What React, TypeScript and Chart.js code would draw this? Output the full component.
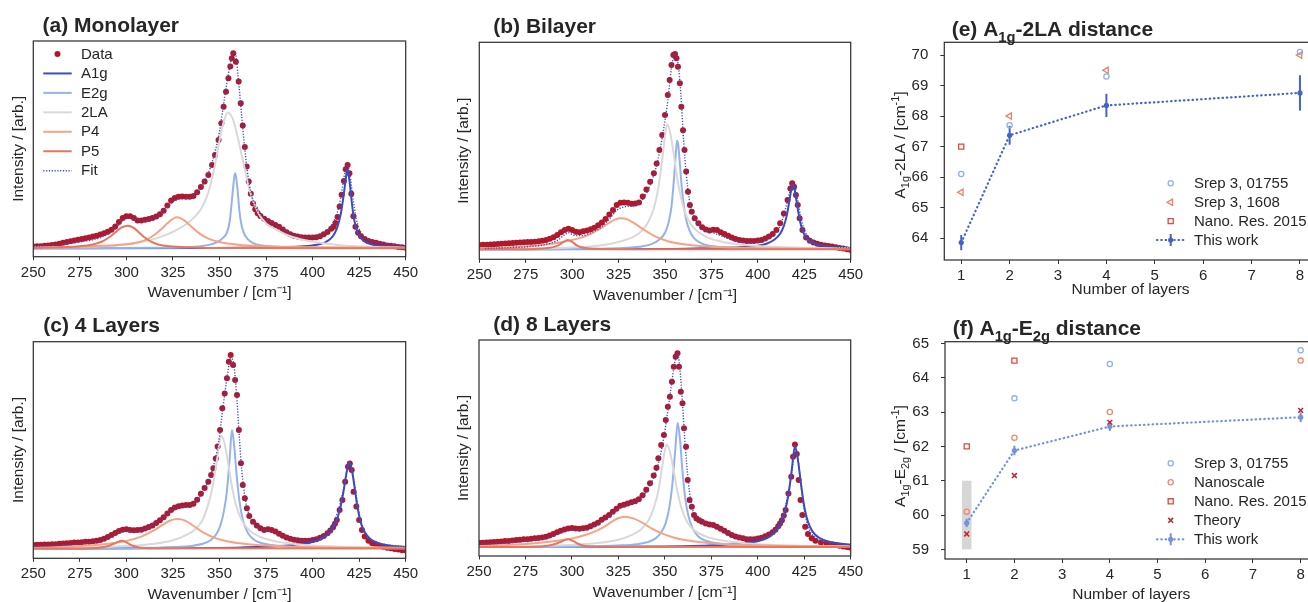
import React, { useEffect, useRef } from 'react';
import { Chart, registerables } from 'chart.js';

Chart.register(...registerables);

const FONT = '"Liberation Sans", Arial, Helvetica, sans-serif';
const INK = '#262626';
const SPINE = '#333333';

const COL_DATA = '#b2182b';
const COL_A1G = '#3b4cc0';
const COL_E2G = '#93b3ef';
const COL_2LA = '#d9d9d9';
const COL_P4 = '#f5a384';
const COL_P5 = '#e8765c';
const COL_FIT = '#3b4cc0';

const COL_SREP = '#8eb0f0';
const COL_SREP1608 = '#ef7d61';
const COL_NANOSCALE = '#f08a6c';
const COL_NANORES = '#df4a3a';
const COL_THEORY = '#c2262e';
const COL_THIS_E = '#4363c5';
const COL_THIS_F = '#7291e0';
const COL_BAND = '#d6d6d6';

type Pt = [number, number];

// ---------- tick labels ----------
const WAVENUMBER_TICKS = [250, 275, 300, 325, 350, 375, 400, 425, 450];
const LAYER_TICKS = [1, 2, 3, 4, 5, 6, 7, 8];
const E_Y_TICKS = [64, 65, 66, 67, 68, 69, 70];
const F_Y_TICKS = [59, 60, 61, 62, 63, 64, 65];

const SPECTRA_LABELS = ['Data', 'A1g', 'E2g', '2LA', 'P4', 'P5', 'Fit'];
const E_LABELS = ['Srep 3, 01755', 'Srep 3, 1608', 'Nano. Res. 2015', 'This work'];
const F_LABELS = ['Srep 3, 01755', 'Nanoscale', 'Nano. Res. 2015', 'Theory', 'This work'];

// ---------- (a) Monolayer ----------
const A_DATA: Pt[] = [[250,.009],[252,.010],[254,.011],[256,.013],[258,.015],[260,.017],[262,.020],[264,.024],[266,.028],[268,.032],[270,.036],[272,.040],[274,.044],[276,.048],[278,.052],[280,.056],[282,.060],[284,.065],[286,.071],[288,.077],[290,.085],[292,.095],[294,.112],[296,.135],[298,.155],[300,.165],[302,.165],[304,.155],[306,.143],[308,.142],[310,.147],[312,.150],[314,.155],[316,.163],[318,.175],[320,.193],[322,.220],[324,.245],[326,.258],[328,.265],[330,.266],[332,.264],[334,.264],[336,.268],[338,.288],[340,.315],[342,.343],[344,.376],[346,.427],[347.6,.479],[349.5,.556],[351,.641],[352.2,.726],[353.5,.803],[354.8,.872],[355.8,.932],[356.6,.974],[357.4,1.0],[358.8,.957],[360.3,.855],[361.4,.744],[362.5,.63],[363.6,.52],[364.6,.42],[365.7,.342],[366.8,.28],[368,.23],[369.2,.2],[370.5,.18],[372,.166],[374,.152],[376,.140],[378,.130],[380,.120],[382,.110],[384,.096],[386,.083],[388,.072],[390,.065],[392,.060],[394,.057],[396,.056],[398,.056],[400,.056],[402,.057],[404,.062],[406,.072],[408,.084],[410,.100],[411.2,.11],[412.3,.13],[413.4,.16],[414.5,.215],[415.6,.275],[416.8,.345],[417.8,.405],[418.8,.427],[419.8,.385],[420.8,.28],[421.9,.165],[423,.111],[424.4,.08],[426,.062],[428,.048],[430,.038],[432,.033],[434,.028],[436,.024],[438,.019],[440,.015],[442,.013],[444,.010],[446,.007],[448,.005],[450,.003]];
const A_A1G: Pt[] = [[250,0],[350,.002],[370,.004],[385,.006],[395,.01],[400,.015],[404,.022],[407,.032],[410,.052],[412,.08],[413.5,.115],[415,.17],[416.2,.24],[417.2,.31],[418,.37],[418.5,.4],[419.2,.385],[420,.33],[421,.24],[422,.165],[423.3,.105],[425,.065],[427.5,.038],[431,.022],[437,.012],[444,.007],[450,.005]];
const A_E2G: Pt[] = [[250,0],[320,.003],[332,.006],[340,.011],[345,.019],[349,.033],[352,.055],[354,.08],[355.5,.14],[356.5,.23],[357.3,.31],[358,.37],[358.4,.385],[359,.36],[359.8,.29],[360.6,.2],[361.6,.13],[363,.08],[365,.048],[368,.027],[373,.014],[380,.008],[395,.004],[450,.001]];
const A_2LA: Pt[] = [[250,.004],[270,.007],[286,.01],[300,.02],[312.7,.042],[321.6,.07],[328,.1],[333,.13],[337,.165],[340,.2],[343,.26],[345,.32],[347,.4],[349,.5],[351,.6],[352.8,.665],[354.4,.696],[356,.685],[357.5,.655],[360,.56],[362.8,.44],[366.4,.29],[370.9,.18],[375.3,.125],[380.7,.095],[388,.062],[396.8,.04],[411,.02],[429,.008],[450,.004]];
const A_P4: Pt[] = [[250,.003],[275,.008],[290,.014],[300,.021],[306,.03],[311,.046],[315,.068],[319,.1],[322,.128],[324.5,.148],[326.8,.159],[329,.155],[332,.137],[335,.11],[339,.078],[344,.05],[350,.032],[360,.018],[375,.01],[400,.005],[450,.002]];
const A_P5: Pt[] = [[250,.002],[265,.005],[275,.01],[282,.02],[287,.035],[291,.058],[294.5,.085],[297.5,.107],[300.7,.116],[303.5,.107],[306.5,.084],[309.5,.058],[313,.035],[317,.02],[323,.01],[335,.004],[360,.001],[450,0]];
const A_FIT: Pt[] = [[250,.01],[260,.015],[270,.027],[280,.04],[288,.062],[294,.1],[298,.142],[301,.155],[304,.15],[308,.14],[312,.148],[316,.163],[320,.19],[324,.23],[327,.25],[330,.255],[334,.26],[338,.285],[342,.345],[346,.44],[350,.6],[353,.79],[355.5,.93],[357.3,1.0],[358.5,1.0],[360,.88],[362,.67],[364,.47],[366,.33],[368,.245],[371,.185],[375,.15],[380,.12],[385,.093],[390,.07],[395,.06],[400,.058],[405,.068],[409,.1],[412,.15],[414.5,.23],[416.5,.34],[418.3,.43],[420,.38],[421.5,.27],[423.5,.15],[426,.08],[430,.045],[440,.022],[450,.012]];

// ---------- (b) Bilayer ----------
const B_DATA: Pt[] = [[250,.022],[252,.023],[254,.024],[256,.025],[258,.026],[260,.027],[262,.028],[264,.030],[266,.031],[268,.033],[270,.034],[272,.035],[274,.036],[276,.037],[278,.038],[280,.039],[282,.041],[284,.044],[286,.048],[288,.054],[290,.062],[292,.073],[294,.087],[296,.099],[298,.106],[300,.099],[302,.090],[304,.088],[306,.092],[308,.097],[310,.103],[312,.111],[314,.123],[316,.138],[318,.155],[320,.178],[322,.202],[324,.227],[326,.238],[328,.240],[330,.239],[332,.234],[334,.235],[336,.240],[338,.270],[340,.307],[342,.346],[344,.389],[345.5,.44],[347,.508],[348.5,.585],[350,.688],[351.5,.79],[352.5,.867],[353.5,.944],[354.5,.995],[355.4,1.0],[356.2,.978],[357,.935],[358,.85],[358.8,.73],[359.7,.61],[360.5,.508],[361.4,.398],[362.4,.295],[363.4,.227],[364.4,.193],[366,.159],[368,.133],[370,.113],[372,.102],[374,.096],[376,.100],[378,.099],[380,.087],[382,.078],[384,.069],[386,.060],[388,.053],[390,.048],[392,.045],[394,.043],[396,.043],[398,.043],[400,.045],[402,.048],[404,.055],[406,.066],[408,.078],[410,.099],[412,.133],[414,.184],[416,.253],[417.5,.312],[418.5,.338],[419.5,.321],[420.5,.278],[421.5,.227],[422.5,.159],[424,.099],[426,.061],[428,.044],[430,.035],[432,.029],[434,.024],[436,.020],[438,.017],[440,.014],[442,.011],[444,.007],[446,.004],[448,.000],[450,-.003]];
const B_A1G: Pt[] = [[250,0],[350,.002],[370,.005],[385,.008],[395,.013],[400,.018],[405,.03],[409,.05],[412,.08],[414,.12],[415.5,.17],[417,.25],[418,.305],[418.8,.33],[419.6,.315],[420.6,.26],[421.8,.19],[423.2,.125],[425,.075],[427.5,.045],[431,.027],[437,.015],[444,.009],[450,.006]];
const B_E2G: Pt[] = [[250,0],[320,.004],[330,.008],[338,.016],[343,.028],[347,.05],[350,.085],[352,.14],[353.5,.22],[355,.38],[355.9,.5],[356.5,.556],[357.2,.53],[358,.44],[359,.32],[360.5,.2],[362,.13],[364,.08],[367,.045],[372,.022],[380,.012],[400,.004],[450,.001]];
const B_2LA: Pt[] = [[250,.002],[280,.005],[300,.01],[315,.02],[325,.038],[332,.06],[337,.09],[341,.14],[344,.21],[346.5,.32],[348.5,.46],[350,.58],[351.1,.64],[352.5,.61],[354.5,.5],[356.5,.37],[359,.25],[362,.16],[366,.105],[372,.065],[380,.04],[390,.025],[400,.017],[420,.009],[450,.005]];
const B_P4: Pt[] = [[250,.006],[265,.01],[280,.018],[290,.03],[300,.048],[308,.07],[314,.1],[319,.13],[323,.152],[326.3,.159],[330,.152],[334,.13],[339,.098],[345,.065],[352,.04],[360,.026],[370,.016],[385,.009],[400,.006],[450,.002]];
const B_P5: Pt[] = [[250,0],[280,.002],[288,.008],[292,.018],[295,.035],[297.6,.048],[300,.038],[302.5,.02],[306,.008],[312,.003],[330,.001],[450,0]];
const B_FIT: Pt[] = [[253,.005],[265,.008],[275,.013],[285,.024],[292,.045],[296,.075],[298,.085],[301,.072],[305,.07],[310,.085],[315,.11],[320,.155],[324,.2],[327,.215],[330,.22],[334,.225],[338,.255],[342,.33],[346,.45],[349,.6],[351.5,.76],[353.5,.93],[355.4,1.0],[357,.95],[358.5,.8],[360,.56],[361.5,.38],[363,.26],[365,.18],[368,.13],[372,.1],[376,.085],[380,.07],[385,.052],[390,.04],[395,.034],[400,.035],[404,.045],[408,.07],[411,.1],[413.5,.16],[416,.25],[418,.32],[418.8,.345],[420,.32],[421.5,.25],[423,.17],[425,.1],[428,.055],[432,.03],[440,.015],[450,.007]];

// ---------- (c) 4 Layers ----------
const C_DATA: Pt[] = [[250,.019],[252,.020],[254,.020],[256,.021],[258,.021],[260,.022],[262,.023],[264,.025],[266,.026],[268,.028],[270,.029],[272,.031],[274,.032],[276,.033],[278,.035],[280,.036],[282,.038],[284,.041],[286,.045],[288,.051],[290,.060],[292,.071],[294,.081],[296,.091],[298,.098],[300,.100],[302,.096],[304,.095],[306,.096],[308,.098],[310,.104],[312,.112],[314,.120],[316,.133],[318,.146],[320,.162],[322,.181],[324,.200],[326,.213],[328,.219],[330,.223],[332,.225],[334,.226],[336,.232],[338,.252],[340,.283],[342,.313],[344,.345],[345.5,.38],[346.7,.415],[348,.466],[349,.527],[350.3,.613],[351.5,.725],[352.8,.802],[354,.88],[355,.966],[356,1.0],[357.3,.948],[358.4,.871],[359.4,.793],[360.4,.613],[361.5,.441],[362.5,.329],[363.6,.26],[364.7,.208],[366,.169],[368,.139],[370,.119],[372,.105],[374,.096],[376,.100],[378,.096],[380,.088],[382,.077],[384,.066],[386,.057],[388,.051],[390,.046],[392,.043],[394,.041],[396,.041],[398,.041],[400,.044],[402,.048],[404,.056],[406,.065],[408,.080],[409.5,.094],[411,.110],[412,.128],[413,.148],[414.5,.200],[416,.251],[417.5,.346],[419,.423],[420,.44],[421,.406],[422,.294],[423.5,.217],[425,.148],[426.5,.096],[428,.062],[430,.041],[432,.028],[434,.020],[436,.014],[438,.010],[440,.005],[442,.002],[444,-.002],[446,-.005],[448,-.008],[450,-.01]];
const C_A1G: Pt[] = [[250,0],[350,.003],[370,.008],[385,.015],[393,.022],[400,.034],[405,.052],[409,.08],[412,.125],[414.5,.195],[416.5,.29],[418,.38],[419.6,.446],[421,.41],[422.5,.32],[424,.22],[426,.13],[428,.085],[431,.05],[435,.03],[440,.018],[450,.008]];
const C_E2G: Pt[] = [[250,0],[310,.003],[325,.008],[335,.014],[341,.025],[345,.042],[348,.07],[350.5,.12],[352.5,.2],[354,.3],[355.5,.47],[356.7,.613],[358,.52],[359.3,.37],[360.8,.24],[362.5,.15],[365,.085],[368,.05],[372,.03],[380,.016],[400,.006],[450,.002]];
const C_2LA: Pt[] = [[250,.002],[280,.006],[300,.013],[315,.025],[325,.043],[332,.07],[337,.1],[341,.15],[344,.23],[346.5,.33],[348.5,.45],[350,.55],[351,.583],[352.5,.55],[354.5,.45],[356.5,.33],[359,.22],[362,.145],[366,.095],[372,.06],[380,.038],[390,.024],[400,.016],[420,.008],[450,.004]];
const C_P4: Pt[] = [[250,.005],[265,.009],[280,.016],[290,.025],[300,.04],[308,.062],[314,.09],[319,.12],[323.5,.145],[327.5,.153],[331.5,.145],[336,.118],[341,.085],[347,.057],[354,.038],[362,.026],[372,.017],[385,.011],[400,.007],[450,.003]];
const C_P5: Pt[] = [[250,0],[280,.002],[287,.007],[291,.016],[294.5,.03],[297.4,.041],[300,.032],[303,.016],[307,.006],[315,.002],[450,0]];
const C_FIT: Pt[] = [[250,.012],[265,.018],[280,.03],[288,.045],[293,.068],[297,.088],[300,.09],[304,.088],[308,.095],[313,.115],[318,.145],[322,.18],[326,.208],[330,.218],[334,.222],[338,.25],[342,.31],[346,.4],[349.5,.55],[352,.74],[354.3,.9],[356,.985],[357.5,.96],[359,.82],[360.5,.6],[362,.4],[364,.25],[366.5,.16],[370,.115],[375,.095],[380,.085],[385,.065],[390,.048],[395,.042],[400,.048],[405,.065],[409,.1],[412,.15],[415,.24],[417.5,.35],[419.6,.45],[421.5,.39],[423.5,.27],[425.5,.16],[428,.09],[431,.05],[436,.028],[443,.016],[450,.01]];

// ---------- (d) 8 Layers ----------
const D_DATA: Pt[] = [[250,.022],[252,.023],[254,.024],[256,.025],[258,.026],[260,.028],[262,.029],[264,.031],[266,.032],[268,.034],[270,.036],[272,.038],[274,.040],[276,.041],[278,.043],[280,.045],[282,.047],[284,.050],[286,.054],[288,.060],[290,.067],[292,.076],[294,.084],[296,.091],[298,.096],[300,.098],[302,.096],[304,.095],[306,.097],[308,.100],[310,.107],[312,.116],[314,.126],[316,.141],[318,.153],[320,.165],[322,.182],[324,.198],[326,.213],[328,.219],[330,.225],[332,.231],[334,.237],[336,.247],[338,.268],[340,.296],[342,.329],[344,.370],[345.5,.41],[346.5,.458],[348,.527],[349.5,.578],[350.5,.656],[351.6,.725],[352.7,.776],[353.8,.854],[354.8,.931],[355.8,.983],[356.8,1.0],[357.6,.931],[358.6,.802],[359.5,.742],[360.3,.613],[361.4,.518],[362.3,.346],[363.3,.243],[364.5,.208],[365.7,.165],[367,.148],[368.5,.139],[370,.131],[372,.122],[374,.117],[376,.114],[378,.105],[380,.095],[382,.084],[384,.073],[386,.062],[388,.055],[390,.050],[392,.045],[394,.041],[396,.040],[398,.041],[400,.044],[402,.048],[404,.056],[406,.065],[408,.077],[409.5,.09],[411,.108],[412,.122],[413,.139],[414,.163],[415,.191],[416.5,.277],[418,.363],[419,.466],[420,.53],[421,.48],[422,.346],[423,.243],[424,.165],[425.5,.105],[427,.067],[429,.045],[431,.033],[434,.024],[437,.019],[440,.014],[442,.011],[444,.007],[446,.003],[448,.000],[450,-.003]];
const D_A1G: Pt[] = [[250,0],[350,.003],[370,.007],[385,.013],[393,.02],[400,.03],[405,.046],[409,.075],[412,.115],[414.5,.18],[416.5,.27],[418.3,.4],[420,.521],[421.6,.45],[423.2,.33],[425,.21],[427,.13],[429.5,.08],[433,.048],[437,.032],[443,.02],[450,.013]];
const D_E2G: Pt[] = [[250,0],[310,.003],[325,.008],[335,.015],[341,.026],[345,.045],[348,.075],[350.5,.125],[352.5,.21],[354,.32],[355.6,.5],[356.9,.642],[358.2,.55],[359.5,.39],[361,.25],[362.7,.16],[365,.095],[368,.055],[372,.033],[380,.017],[400,.006],[450,.002]];
const D_2LA: Pt[] = [[250,.002],[280,.005],[300,.012],[315,.022],[325,.038],[332,.062],[337,.09],[341,.135],[344,.2],[346.5,.29],[348.5,.41],[350,.5],[351,.53],[352.5,.5],[354.5,.41],[356.5,.3],[359,.2],[362,.13],[366,.085],[372,.055],[380,.035],[390,.022],[400,.015],[420,.007],[450,.004]];
const D_P4: Pt[] = [[250,.006],[265,.011],[280,.02],[290,.03],[300,.045],[308,.065],[314,.088],[319,.115],[323.5,.143],[328.2,.157],[333,.148],[338,.125],[343,.095],[349,.068],[356,.046],[364,.032],[375,.02],[390,.012],[410,.007],[450,.003]];
const D_P5: Pt[] = [[250,0],[280,.002],[287,.007],[291,.016],[294.7,.03],[297.7,.041],[300.5,.032],[303.5,.016],[307,.006],[315,.002],[450,0]];
const D_FIT: Pt[] = [[250,.015],[265,.022],[280,.036],[288,.05],[293,.07],[297,.085],[300,.088],[304,.088],[309,.097],[314,.12],[319,.15],[324,.19],[328,.215],[332,.228],[336,.24],[340,.285],[344,.36],[347.5,.47],[350.5,.63],[353,.8],[355.3,.95],[356.8,1.0],[358,.93],[359.5,.74],[361,.52],[362.7,.33],[364.5,.21],[367,.15],[371,.125],[376,.11],[381,.09],[386,.065],[391,.048],[396,.042],[401,.046],[406,.065],[410,.1],[413,.15],[416,.26],[418.5,.4],[420,.52],[421.6,.46],[423.2,.32],[425,.19],[427.5,.095],[431,.048],[436,.028],[443,.018],[450,.012]];

// ---------- (e) A1g-2LA distance ----------
const E_LAYERS = [1, 2, 4, 8];
const E_SREP_01755 = [66.1, 67.7, 69.3, 70.1];
const E_SREP_1608 = [65.5, 68.0, 69.5, 70.0];
const E_NANORES_LAYERS = [1];
const E_NANORES = [67.0];
const E_THIS = [63.85, 67.37, 68.35, 68.76];
const E_THIS_ERR = [0.25, 0.31, 0.38, 0.58];

// ---------- (f) A1g-E2g distance ----------
const F_LAYERS = [1, 2, 4, 8];
const F_SREP_LAYERS = [2, 4, 8];
const F_SREP_01755 = [63.4, 64.4, 64.8];
const F_NANOSCALE = [60.1, 62.25, 63.0, 64.5];
const F_NANORES_LAYERS = [1, 2];
const F_NANORES = [62.0, 64.5];
const F_THEORY = [59.45, 61.15, 62.7, 63.05];
const F_THIS = [59.77, 61.88, 62.58, 62.85];
const F_THIS_ERR = [0.12, 0.14, 0.13, 0.14];
const F_BAND_X = [0.9, 1.1];
const F_BAND_Y = [59, 61];

// ---------- helpers ----------
const xy = (a: Pt[]) => a.map(([x, y]) => ({ x, y }));
const zip = (xs: number[], ys: number[]) => xs.map((x, i) => ({ x, y: ys[i] }));

type Seg = { t: string; s?: 'sub' | 'sup' };

function drawRich(ctx: CanvasRenderingContext2D, segs: Seg[], x: number, y: number, size: number, weight: string, align: 'left' | 'center', rotate: boolean) {
  ctx.save();
  ctx.translate(x, y);
  if (rotate) ctx.rotate(-Math.PI / 2);
  ctx.fillStyle = INK;
  ctx.textBaseline = 'alphabetic';
  ctx.textAlign = 'left';
  const parts = segs.map((sg) => {
    const sz = sg.s ? size * 0.7 : size;
    ctx.font = `${weight} ${sz}px ${FONT}`;
    return { ...sg, sz, w: ctx.measureText(sg.t).width };
  });
  const total = parts.reduce((a, p) => a + p.w, 0);
  let cx = align === 'center' ? -total / 2 : 0;
  for (const p of parts) {
    ctx.font = `${weight} ${p.sz}px ${FONT}`;
    const dy = p.s === 'sub' ? size * 0.3 : p.s === 'sup' ? -size * 0.38 : 0;
    ctx.fillText(p.t, cx, dy);
    cx += p.w;
  }
  ctx.restore();
}

function drawMarker(ctx: CanvasRenderingContext2D, kind: string, x: number, y: number, r: number, color: string, lw: number, filled: boolean) {
  ctx.save();
  ctx.strokeStyle = color;
  ctx.fillStyle = color;
  ctx.lineWidth = lw;
  ctx.beginPath();
  if (kind === 'circle') {
    ctx.arc(x, y, r, 0, Math.PI * 2);
  } else if (kind === 'triangleLeft') {
    ctx.moveTo(x - r, y);
    ctx.lineTo(x + r * 0.5, y - r * 0.866);
    ctx.lineTo(x + r * 0.5, y + r * 0.866);
    ctx.closePath();
  } else if (kind === 'rect') {
    const s = r * Math.SQRT1_2;
    ctx.rect(x - s, y - s, 2 * s, 2 * s);
  } else if (kind === 'cross') {
    const s = r * Math.SQRT1_2;
    ctx.moveTo(x - s, y - s); ctx.lineTo(x + s, y + s);
    ctx.moveTo(x - s, y + s); ctx.lineTo(x + s, y - s);
  }
  if (filled) ctx.fill(); else ctx.stroke();
  ctx.restore();
}

interface Rect { left: number; top: number; width: number; height: number }
interface Area { l: number; t: number; r: number; b: number }

function layoutFor(canvas: Rect, area: Area, xTitleY: number) {
  const xh = xTitleY + 9.3 - area.b;
  return {
    padding: {
      left: 0,
      top: area.t - canvas.top,
      right: canvas.left + canvas.width - area.r,
      bottom: canvas.top + canvas.height - (area.b + xh),
    },
    yw: area.l - canvas.left,
    xh,
  };
}

function overlayPlugin(canvas: Rect, before: ((ctx: CanvasRenderingContext2D, chart: any) => void) | null, after: (ctx: CanvasRenderingContext2D, chart: any) => void) {
  return {
    id: 'overlay',
    beforeDatasetsDraw(chart: any) {
      if (!before) return;
      const ctx = chart.ctx;
      ctx.save();
      before(ctx, chart);
      ctx.restore();
    },
    afterDraw(chart: any) {
      const ctx = chart.ctx as CanvasRenderingContext2D;
      const { left, top, right, bottom } = chart.chartArea;
      ctx.save();
      ctx.strokeStyle = SPINE;
      ctx.lineWidth = 1.25;
      ctx.strokeRect(left, top, right - left, bottom - top);
      ctx.restore();
      ctx.save();
      ctx.translate(-canvas.left, -canvas.top);
      after(ctx, chart);
      ctx.restore();
    },
  };
}

// ---------- spectra panels ----------
interface SpectrumSpec {
  canvas: Rect; area: Area; yMin: number; yMax: number;
  title: string; titleX: number; titleY: number;
  yTitleX: number; xTitleY: number; legend: boolean;
  data: Pt[]; a1g: Pt[]; e2g: Pt[]; la2: Pt[]; p4: Pt[]; p5: Pt[]; fit: Pt[];
}

const SPECTRA: SpectrumSpec[] = [
  { canvas: { left: 0, top: 0, width: 440, height: 308 }, area: { l: 33.3, t: 41, r: 405.7, b: 256.7 }, yMin: -0.043, yMax: 1.063,
    title: '(a) Monolayer', titleX: 42.5, titleY: 31.5, yTitleX: 18.4, xTitleY: 293, legend: true,
    data: A_DATA, a1g: A_A1G, e2g: A_E2G, la2: A_2LA, p4: A_P4, p5: A_P5, fit: A_FIT },
  { canvas: { left: 445, top: 0, width: 440, height: 308 }, area: { l: 479.3, t: 42.3, r: 850.7, b: 259.3 }, yMin: -0.051, yMax: 1.06,
    title: '(b) Bilayer', titleX: 493.3, titleY: 33, yTitleX: 463.3, xTitleY: 295.5, legend: false,
    data: B_DATA, a1g: B_A1G, e2g: B_E2G, la2: B_2LA, p4: B_P4, p5: B_P5, fit: B_FIT },
  { canvas: { left: 0, top: 300, width: 440, height: 308 }, area: { l: 33.3, t: 341.7, r: 405.7, b: 558.3 }, yMin: -0.05, yMax: 1.069,
    title: '(c) 4 Layers', titleX: 43.3, titleY: 331.7, yTitleX: 18.3, xTitleY: 594.5, legend: false,
    data: C_DATA, a1g: C_A1G, e2g: C_E2G, la2: C_2LA, p4: C_P4, p5: C_P5, fit: C_FIT },
  { canvas: { left: 445, top: 300, width: 440, height: 308 }, area: { l: 479, t: 340, r: 850.7, b: 556 }, yMin: -0.046, yMax: 1.069,
    title: '(d) 8 Layers', titleX: 493.3, titleY: 330.7, yTitleX: 463.3, xTitleY: 592.5, legend: false,
    data: D_DATA, a1g: D_A1G, e2g: D_E2G, la2: D_2LA, p4: D_P4, p5: D_P5, fit: D_FIT },
];

function drawSpectraLegend(ctx: CanvasRenderingContext2D) {
  const styles = [
    { dot: COL_DATA },
    { line: COL_A1G, w: 2 },
    { line: COL_E2G, w: 2 },
    { line: COL_2LA, w: 2 },
    { line: COL_P4, w: 2 },
    { line: COL_P5, w: 2 },
    { line: COL_FIT, w: 1.4, dash: [1.2, 1.6] },
  ] as any[];
  SPECTRA_LABELS.forEach((label, i) => {
    const y = 54 + i * 19.45;
    const st = styles[i];
    ctx.save();
    if (st.dot) {
      ctx.beginPath();
      ctx.arc(57.5, y, 3, 0, Math.PI * 2);
      ctx.fillStyle = st.dot;
      ctx.fill();
    } else {
      ctx.beginPath();
      ctx.setLineDash(st.dash || []);
      ctx.lineWidth = st.w;
      ctx.strokeStyle = st.line;
      ctx.moveTo(43.3, y);
      ctx.lineTo(71.7, y);
      ctx.stroke();
    }
    ctx.restore();
    ctx.font = `15px ${FONT}`;
    ctx.fillStyle = INK;
    ctx.textBaseline = 'middle';
    ctx.textAlign = 'left';
    ctx.fillText(label, 81, y + 0.5);
  });
}

const tickFont = { family: FONT, size: 15 };
const titleFont = { family: FONT, size: 15.5 };

function spectrumConfig(spec: SpectrumSpec): any {
  const L = layoutFor(spec.canvas, spec.area, spec.xTitleY);
  const line = (label: string, pts: Pt[], color: string, order: number, extra: any = {}) => ({
    label, data: xy(pts), borderColor: color, borderWidth: 2, pointRadius: 0, pointHoverRadius: 0,
    fill: false, cubicInterpolationMode: 'monotone', order, ...extra,
  });
  return {
    type: 'line',
    data: {
      datasets: [
        { label: 'Data', data: xy(spec.data), showLine: false, pointRadius: 3, pointHoverRadius: 3,
          pointBackgroundColor: COL_DATA, pointBorderColor: COL_DATA, pointBorderWidth: 0, order: 6 },
        line('A1g', spec.a1g, COL_A1G, 5),
        line('E2g', spec.e2g, COL_E2G, 4),
        line('2LA', spec.la2, COL_2LA, 3),
        line('P4', spec.p4, COL_P4, 2),
        line('P5', spec.p5, COL_P5, 1),
        line('Fit', spec.fit, COL_FIT, 0, { borderWidth: 1.4, borderDash: [1.2, 1.6] }),
      ],
    },
    options: {
      animation: false, responsive: false, devicePixelRatio: 1, events: [],
      layout: { padding: L.padding },
      plugins: { legend: { display: false }, tooltip: { enabled: false }, title: { display: false } },
      scales: {
        x: {
          type: 'linear', min: 250, max: 450,
          afterBuildTicks: (s: any) => { s.ticks = WAVENUMBER_TICKS.map((v) => ({ value: v })); },
          afterFit: (s: any) => { s.height = L.xh; },
          ticks: { font: tickFont, color: INK, padding: 3.2, maxRotation: 0, autoSkip: false, callback: (v: any) => `${v}` },
          grid: { display: true, drawOnChartArea: false, drawTicks: true, tickLength: 3.5, color: SPINE, lineWidth: 1 },
          border: { display: false },
          title: { display: true, text: 'Wavenumber / [cm⁻¹]', font: titleFont, color: INK, padding: { top: 0, bottom: 0 } },
        },
        y: {
          type: 'linear', min: spec.yMin, max: spec.yMax,
          afterFit: (s: any) => { s.width = L.yw; },
          ticks: { display: false },
          grid: { display: false },
          border: { display: false },
          title: { display: true, text: 'Intensity / [arb.]', font: titleFont, color: INK,
            padding: { top: spec.yTitleX - spec.canvas.left - 9.3, bottom: 0 } },
        },
      },
    },
    plugins: [
      overlayPlugin(spec.canvas, null, (ctx) => {
        drawRich(ctx, [{ t: spec.title }], spec.titleX, spec.titleY, 21, 'bold', 'left', false);
        if (spec.legend) drawSpectraLegend(ctx);
      }),
    ],
  };
}

// ---------- scatter panels ----------
const E_CANVAS: Rect = { left: 885, top: 0, width: 445, height: 308 };
const E_AREA: Area = { l: 944.3, t: 42.3, r: 1316.9, b: 260 };
const F_CANVAS: Rect = { left: 885, top: 300, width: 445, height: 308 };
const F_AREA: Area = { l: 945, t: 341.7, r: 1317.6, b: 559 };

function scatterScales(L: any, xMin: number, xMax: number, yMin: number, yMax: number, yTicks: number[]) {
  return {
    x: {
      type: 'linear', min: xMin, max: xMax,
      afterBuildTicks: (s: any) => { s.ticks = LAYER_TICKS.map((v) => ({ value: v })); },
      afterFit: (s: any) => { s.height = L.xh; },
      ticks: { font: tickFont, color: INK, padding: 3.3, maxRotation: 0, autoSkip: false, callback: (v: any) => `${v}` },
      grid: { display: true, drawOnChartArea: false, drawTicks: true, tickLength: 4, color: SPINE, lineWidth: 1 },
      border: { display: false },
      title: { display: true, text: 'Number of layers', font: titleFont, color: INK, padding: { top: 0, bottom: 0 } },
    },
    y: {
      type: 'linear', min: yMin, max: yMax,
      afterBuildTicks: (s: any) => { s.ticks = yTicks.map((v) => ({ value: v })); },
      afterFit: (s: any) => { s.width = L.yw; },
      ticks: { font: tickFont, color: INK, padding: 12, autoSkip: false, callback: (v: any) => `${v}` },
      grid: { display: true, drawOnChartArea: false, drawTicks: true, tickLength: 4, color: SPINE, lineWidth: 1 },
      border: { display: false },
      title: { display: false },
    },
  };
}

function openPoints(label: string, data: any[], color: string, style: string, radius: number, extra: any = {}) {
  return { label, data, showLine: false, pointStyle: style, pointRadius: radius, pointHoverRadius: radius,
    pointBorderColor: color, pointBackgroundColor: 'rgba(0,0,0,0)', pointBorderWidth: 1.3, ...extra };
}

function thisWork(data: any[], color: string) {
  return { label: 'This work', data, showLine: true, borderColor: color, borderWidth: 2.2,
    borderDash: [0.5, 3.8], borderCapStyle: 'round', pointRadius: 2.6, pointHoverRadius: 2.6,
    pointBackgroundColor: color, pointBorderColor: color, pointBorderWidth: 0 };
}

function drawErrorBars(ctx: CanvasRenderingContext2D, chart: any, xs: number[], ys: number[], errs: number[], color: string) {
  const sx = chart.scales.x; const sy = chart.scales.y;
  ctx.strokeStyle = color; ctx.lineWidth = 2;
  xs.forEach((x, i) => {
    const px = sx.getPixelForValue(x);
    ctx.beginPath();
    ctx.moveTo(px, sy.getPixelForValue(ys[i] - errs[i]));
    ctx.lineTo(px, sy.getPixelForValue(ys[i] + errs[i]));
    ctx.stroke();
  });
}

function drawThisWorkLegend(ctx: CanvasRenderingContext2D, y: number, color: string) {
  ctx.save();
  ctx.strokeStyle = color; ctx.lineWidth = 2.2; ctx.lineCap = 'round'; ctx.setLineDash([0.5, 3.8]);
  ctx.beginPath(); ctx.moveTo(1157, y); ctx.lineTo(1185, y); ctx.stroke();
  ctx.setLineDash([]); ctx.lineCap = 'butt'; ctx.lineWidth = 2;
  ctx.beginPath(); ctx.moveTo(1170.7, y - 6); ctx.lineTo(1170.7, y + 6); ctx.stroke();
  ctx.restore();
  drawMarker(ctx, 'circle', 1170.7, y, 2.6, color, 1, true);
}

function legendText(ctx: CanvasRenderingContext2D, text: string, y: number) {
  ctx.font = `15px ${FONT}`; ctx.fillStyle = INK; ctx.textBaseline = 'middle'; ctx.textAlign = 'left';
  ctx.fillText(text, 1194, y + 0.5);
}

function eConfig(): any {
  const L = layoutFor(E_CANVAS, E_AREA, 290);
  return {
    type: 'scatter',
    data: {
      datasets: [
        thisWork(zip(E_LAYERS, E_THIS), COL_THIS_E),
        openPoints('Srep 3, 01755', zip(E_LAYERS, E_SREP_01755), COL_SREP, 'circle', 2.6),
        openPoints('Srep 3, 1608', zip(E_LAYERS, E_SREP_1608), COL_SREP1608, 'triangle', 3.6, { pointRotation: -90 }),
        openPoints('Nano. Res. 2015', zip(E_NANORES_LAYERS, E_NANORES), COL_NANORES, 'rect', 3.6),
      ],
    },
    options: {
      animation: false, responsive: false, devicePixelRatio: 1, events: [],
      layout: { padding: L.padding },
      plugins: { legend: { display: false }, tooltip: { enabled: false } },
      scales: scatterScales(L, 0.65, 8.35, 63.28, 70.42, E_Y_TICKS),
    },
    plugins: [
      overlayPlugin(E_CANVAS,
        (ctx, chart) => drawErrorBars(ctx, chart, E_LAYERS, E_THIS, E_THIS_ERR, COL_THIS_E),
        (ctx) => {
          drawRich(ctx, [{ t: '(e) A' }, { t: '1g', s: 'sub' }, { t: '-2LA distance' }], 951.7, 35.7, 21, 'bold', 'left', false);
          drawRich(ctx, [{ t: 'A' }, { t: '1g', s: 'sub' }, { t: '-2LA / [cm' }, { t: '-1', s: 'sup' }, { t: ']' }], 904.5, 145, 15.5, 'normal', 'center', true);
          const rows = E_LABELS.map((_, i) => 183.3 + i * 18.9);
          drawMarker(ctx, 'circle', 1170.7, rows[0], 2.6, COL_SREP, 1.3, false);
          drawMarker(ctx, 'triangleLeft', 1170.7, rows[1], 3.6, COL_SREP1608, 1.3, false);
          drawMarker(ctx, 'rect', 1170.7, rows[2], 3.6, COL_NANORES, 1.3, false);
          drawThisWorkLegend(ctx, rows[3], COL_THIS_E);
          E_LABELS.forEach((t, i) => legendText(ctx, t, rows[i]));
        }),
    ],
  };
}

function fConfig(): any {
  const L = layoutFor(F_CANVAS, F_AREA, 595);
  return {
    type: 'scatter',
    data: {
      datasets: [
        thisWork(zip(F_LAYERS, F_THIS), COL_THIS_F),
        openPoints('Srep 3, 01755', zip(F_SREP_LAYERS, F_SREP_01755), COL_SREP, 'circle', 2.6),
        openPoints('Nanoscale', zip(F_LAYERS, F_NANOSCALE), COL_NANOSCALE, 'circle', 2.6),
        openPoints('Nano. Res. 2015', zip(F_NANORES_LAYERS, F_NANORES), COL_NANORES, 'rect', 3.6),
        openPoints('Theory', zip(F_LAYERS, F_THEORY), COL_THEORY, 'crossRot', 3.4, { pointBorderWidth: 1.6 }),
      ],
    },
    options: {
      animation: false, responsive: false, devicePixelRatio: 1, events: [],
      layout: { padding: L.padding },
      plugins: { legend: { display: false }, tooltip: { enabled: false } },
      scales: scatterScales(L, 0.545, 8.355, 58.72, 65.05, F_Y_TICKS),
    },
    plugins: [
      overlayPlugin(F_CANVAS,
        (ctx, chart) => {
          const sx = chart.scales.x; const sy = chart.scales.y;
          const x0 = sx.getPixelForValue(F_BAND_X[0]); const x1 = sx.getPixelForValue(F_BAND_X[1]);
          const y0 = sy.getPixelForValue(F_BAND_Y[1]); const y1 = sy.getPixelForValue(F_BAND_Y[0]);
          ctx.fillStyle = COL_BAND;
          ctx.fillRect(x0, y0, x1 - x0, y1 - y0);
          drawErrorBars(ctx, chart, F_LAYERS, F_THIS, F_THIS_ERR, COL_THIS_F);
        },
        (ctx) => {
          drawRich(ctx, [{ t: '(f) A' }, { t: '1g', s: 'sub' }, { t: '-E' }, { t: '2g', s: 'sub' }, { t: ' distance' }], 952.7, 335, 21, 'bold', 'left', false);
          drawRich(ctx, [{ t: 'A' }, { t: '1g', s: 'sub' }, { t: '-E' }, { t: '2g', s: 'sub' }, { t: ' / [cm' }, { t: '-1', s: 'sup' }, { t: ']' }], 904.5, 456, 15.5, 'normal', 'center', true);
          const rows = F_LABELS.map((_, i) => 463.3 + i * 19);
          drawMarker(ctx, 'circle', 1170.7, rows[0], 2.6, COL_SREP, 1.3, false);
          drawMarker(ctx, 'circle', 1170.7, rows[1], 2.6, COL_NANOSCALE, 1.3, false);
          drawMarker(ctx, 'rect', 1170.7, rows[2], 3.6, COL_NANORES, 1.3, false);
          drawMarker(ctx, 'cross', 1170.7, rows[3], 3.4, COL_THEORY, 1.6, false);
          drawThisWorkLegend(ctx, rows[4], COL_THIS_F);
          F_LABELS.forEach((t, i) => legendText(ctx, t, rows[i]));
        }),
    ],
  };
}

const PANEL_CANVASES: Rect[] = [...SPECTRA.map((s) => s.canvas), E_CANVAS, F_CANVAS];

export default function App() {
  const refs = useRef<(HTMLCanvasElement | null)[]>([]);
  useEffect(() => {
    const configs = [...SPECTRA.map((s) => spectrumConfig(s)), eConfig(), fConfig()];
    const charts = configs.map((cfg, i) => new Chart(refs.current[i] as HTMLCanvasElement, cfg));
    return () => charts.forEach((c) => c.destroy());
  }, []);
  return (
    <div style={{ position: 'absolute', left: 0, top: 0, width: 1308, height: 602, overflow: 'hidden', background: '#ffffff' }}>
      {PANEL_CANVASES.map((c, i) => (
        <canvas
          key={i}
          ref={(el) => { refs.current[i] = el; }}
          width={c.width}
          height={c.height}
          style={{ position: 'absolute', left: c.left, top: c.top, width: c.width, height: c.height }}
        />
      ))}
    </div>
  );
}
